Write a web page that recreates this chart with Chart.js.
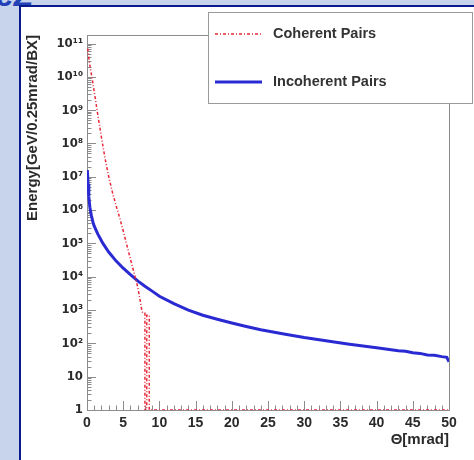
<!DOCTYPE html>
<html>
<head>
<meta charset="utf-8">
<script src="https://cdn.jsdelivr.net/npm/chart.js@4.4.1/dist/chart.umd.min.js"></script>
<style>
    body { margin: 0; width: 474px; height: 460px; overflow: hidden; position: relative; background: #c8d4ec; }
    #slideTitle { position: absolute; left: -4px; top: -21px; font: italic bold 32px/32px "Liberation Sans", Arial, sans-serif; color: #2342b8; }
    #topRule { position: absolute; left: 19px; right: 0; top: 5px; height: 2px; background: #0b1a8c; }
    #sideRule { position: absolute; left: 19px; top: 5px; bottom: 0; width: 2px; background: #0b1a8c; }
    #panel { position: absolute; left: 21px; top: 7px; width: 453px; height: 453px; background: #fff; }
    #holder { position: absolute; left: 21px; top: 8px; width: 453px; height: 452px; }
</style>
</head>
<body>
<div id="slideTitle">eZ</div>
<div id="topRule"></div>
<div id="sideRule"></div>
<div id="panel"></div>
<div id="holder"><canvas id="energy"></canvas></div>
<script>
// angle in mrad, energy in GeV / 0.25 mrad / BX
const coherentTheta  = [0.1, 0.3, 0.5, 0.75, 1.0, 1.25, 1.5, 2.0, 2.5, 3.0, 3.5, 4.0, 4.5, 5.0, 5.5, 6.0, 6.5, 7.0, 7.3, 7.6, 7.75, 8.0, 8.0, 8.25, 8.25, 8.6, 8.6, 50];
const coherentEnergy = [7e10, 3e10, 1.6e10, 8e9, 3.5e9, 1.6e9, 7e8, 1.5e8, 3.5e7, 1e7, 3.5e6, 1.4e6, 6e5, 2.4e5, 9e4, 3.4e4, 1.3e4, 5000, 2200, 900, 800, 800, 1, 1, 700, 700, 1, 1];

const incoherentTheta  = [0.05, 0.15, 0.25, 0.4, 0.6, 0.8, 1.0, 1.5, 2.2, 3, 4, 5, 6, 7, 8, 9, 10, 12, 14, 16, 18, 20, 22, 24, 27, 30, 33, 36, 40, 43, 44, 45, 46, 47, 48, 49, 49.7, 50];
const incoherentEnergy = [1.6e7, 6e6, 2.5e6, 1.2e6, 7e5, 4.5e5, 3.3e5, 1.9e5, 1.0e5, 5.5e4, 3e4, 1.8e4, 1.15e4, 7500, 5200, 3700, 2600, 1550, 1000, 700, 530, 410, 320, 255, 195, 150, 120, 96, 74, 60, 58, 52, 50, 45, 44, 40, 38, 28];

const seriesNames = ['Coherent Pairs', 'Incoherent Pairs'];
const thetaTicks = [0, 5, 10, 15, 20, 25, 30, 35, 40, 45, 50];
const yTickValues = [1, 10, 1e2, 1e3, 1e4, 1e5, 1e6, 1e7, 1e8, 1e9, 1e10, 1e11];
const yTickLabels = ['1', '10', '10²', '10³', '10⁴', '10⁵', '10⁶', '10⁷', '10⁸', '10⁹', '10¹⁰', '10¹¹'];

const toPoints = (xs, ys) => xs.map((x, i) => ({ x: x, y: ys[i] }));

Chart.defaults.font.family = '"Liberation Sans", Arial, sans-serif';
Chart.defaults.color = '#2a2a2a';

// ROOT style frame with ticks pointing inwards
const frameTicks = {
    id: 'frameTicks',
    beforeDatasetsDraw(chart) {
        const { ctx, chartArea: a, scales: { x, y } } = chart;
        ctx.save();
        ctx.strokeStyle = '#8c8c8c';
        ctx.lineWidth = 1;
        ctx.beginPath();
        for (let t = x.min; t <= x.max; t++) {
            const px = Math.round(x.getPixelForValue(t)) + 0.5;
            const len = t % 5 === 0 ? 9 : 4.5;
            ctx.moveTo(px, a.bottom);
            ctx.lineTo(px, a.bottom - len);
        }
        for (let d = 0; d <= 11; d++) {
            for (let k = 1; k <= 9; k++) {
                const v = k * Math.pow(10, d);
                if (v > y.max) break;
                const py = Math.round(y.getPixelForValue(v)) + 0.5;
                ctx.moveTo(a.left, py);
                ctx.lineTo(a.left + (k === 1 ? 9 : 4.5), py);
            }
        }
        ctx.stroke();
        ctx.strokeRect(Math.round(a.left) + 0.5, Math.round(a.top) + 0.5, Math.round(a.width), Math.round(a.height));
        ctx.restore();
    }
};

// boxed legend in the top right corner
const boxLegend = {
    id: 'boxLegend',
    afterDraw(chart) {
        const ctx = chart.ctx;
        const bx = 187, by = 4, bw = 264, bh = 91;
        ctx.save();
        ctx.fillStyle = '#fff';
        ctx.fillRect(bx, by, bw, bh);
        ctx.strokeStyle = '#9a9a9a';
        ctx.lineWidth = 1;
        ctx.strokeRect(bx + 0.5, by + 0.5, bw, bh);
        chart.data.datasets.forEach((ds, i) => {
            const ly = by + 22 + i * 48;
            ctx.strokeStyle = ds.borderColor;
            ctx.lineWidth = ds.borderWidth;
            ctx.setLineDash(ds.borderDash || []);
            ctx.beginPath();
            ctx.moveTo(bx + 7, ly);
            ctx.lineTo(bx + 54, ly);
            ctx.stroke();
            ctx.setLineDash([]);
            ctx.fillStyle = '#333';
            ctx.font = 'bold 14.5px "Liberation Sans", Arial, sans-serif';
            ctx.textBaseline = 'middle';
            ctx.fillText(ds.label, bx + 65, ly);
        });
        ctx.restore();
    }
};

new Chart(document.getElementById('energy'), {
    type: 'line',
    data: {
        datasets: [{
            label: seriesNames[0],
            data: toPoints(coherentTheta, coherentEnergy),
            borderColor: '#e8283a',
            borderWidth: 1.5,
            borderDash: [3, 2, 1, 2]
        }, {
            label: seriesNames[1],
            data: toPoints(incoherentTheta, incoherentEnergy),
            borderColor: '#2a2ad2',
            borderWidth: 3
        }]
    },
    options: {
        responsive: true,
        maintainAspectRatio: false,
        animation: false,
        layout: { padding: { left: 0, right: 25, top: 27, bottom: 0 } },
        elements: { point: { radius: 0 }, line: { tension: 0 } },
        plugins: { legend: { display: false }, tooltip: { enabled: false } },
        scales: {
            x: {
                type: 'linear',
                min: 0,
                max: 50,
                afterBuildTicks: (s) => { s.ticks = thetaTicks.map(v => ({ value: v })); },
                afterFit: (s) => { s.height = 50; },
                grid: { display: false, drawTicks: false },
                border: { display: false },
                ticks: { padding: 5, autoSkip: false, maxRotation: 0, font: { size: 14, weight: 'bold' } },
                title: { display: true, text: 'Θ[mrad]', align: 'end', padding: { top: 0, bottom: 11 }, font: { size: 15, weight: 'bold' } }
            },
            y: {
                type: 'logarithmic',
                min: 1,
                max: 1.8e11,
                afterBuildTicks: (s) => { s.ticks = yTickValues.map(v => ({ value: v })); },
                afterFit: (s) => { s.width = 66; },
                grid: { display: false, drawTicks: false },
                border: { display: false },
                ticks: {
                    padding: 4,
                    autoSkip: false,
                    font: { family: '"DejaVu Sans Condensed", "DejaVu Sans", sans-serif', size: 13, weight: 'bold' },
                    callback: (v) => yTickLabels[yTickValues.indexOf(v)]
                },
                title: { display: true, text: 'Energy[GeV/0.25mrad/BX]', align: 'end', padding: { top: 3, bottom: 0 }, font: { size: 15, weight: 'bold' } }
            }
        }
    },
    plugins: [frameTicks, boxLegend]
});
</script>
</body>
</html>
